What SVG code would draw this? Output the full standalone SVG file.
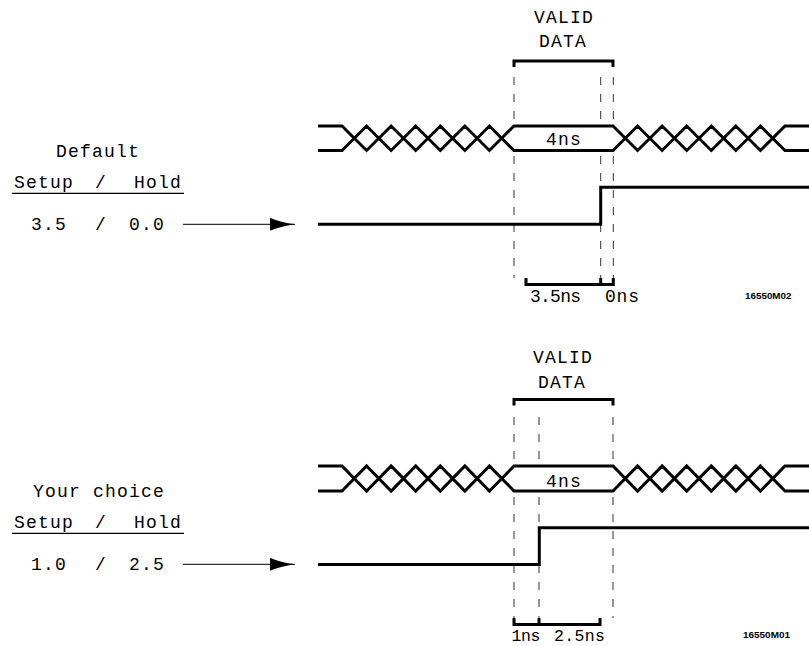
<svg xmlns="http://www.w3.org/2000/svg" width="809" height="646" viewBox="0 0 809 646">
<style>
  .t { font-family: "Liberation Mono", "DejaVu Sans Mono", monospace; font-size: 18px; letter-spacing: 1.2px; fill: #000; }
  .tn { font-family: "Liberation Mono", "DejaVu Sans Mono", monospace; font-size: 18px; letter-spacing: 0px; fill: #000; }
  .tb { font-family: "Liberation Mono", "DejaVu Sans Mono", monospace; font-size: 16.5px; letter-spacing: 0px; fill: #000; }
  .code { font-family: "Liberation Sans", Arial, sans-serif; font-size: 8.5px; font-weight: bold; fill: #000; }
  .bus { fill: none; stroke: #000; stroke-width: 3; stroke-linejoin: miter; }
  .sig { fill: none; stroke: #000; stroke-width: 3; stroke-linejoin: miter; }
  .brk { fill: none; stroke: #000; stroke-width: 3; stroke-linecap: square; stroke-linejoin: miter; }
  .dash { fill: none; stroke: #333; stroke-width: 1; stroke-dasharray: 8 9; }
  .ul { stroke: #000; stroke-width: 1.3; }
  .arr { stroke: #000; stroke-width: 1; fill: none; }
</style>
<defs>
  <marker id="ah" markerUnits="userSpaceOnUse" markerWidth="26" markerHeight="14" refX="25" refY="6.5" orient="auto">
    <path d="M0,0 Q10,4.5 25,6.5 Q10,8.5 0,13 Z" fill="#000"/>
  </marker>
</defs>

<!-- ===== Top: Default ===== -->
<g id="label-default">
  <text class="t" x="56" y="157">Default</text>
  <text class="t" y="188"><tspan x="14">Setup</tspan> <tspan x="95">/</tspan> <tspan x="134">Hold</tspan></text>
  <line class="ul" x1="12" y1="193.3" x2="184" y2="193.3"/>
  <text class="t" y="230"><tspan x="31">3.5</tspan> <tspan x="95">/</tspan> <tspan x="129">0.0</tspan></text>
</g>

<g id="timing-default">
  <text class="t" x="534" y="23">VALID</text>
  <text class="t" x="539" y="47">DATA</text>
  <path class="brk" d="M514,65.5 V61 H613 V65.5"/>
  <g class="dash">
    <path d="M514,77 V121 M514,156 V278"/>
    <path d="M600.7,77 V121 M600.7,156 V279"/>
    <path d="M613.3,77 V121 M613.3,156 V279"/>
  </g>
  <path class="bus" d="M318,126 H342 L366.57,150.5 L391.14,126 L415.71,150.5 L440.29,126 L464.86,150.5 L489.43,126 L514,150.5 H613 L637.57,126 L662.14,150.5 L686.71,126 L711.29,150.5 L735.86,126 L760.43,150.5 L785,126 H809"/>
  <path class="bus" d="M318,150.5 H342 L366.57,126 L391.14,150.5 L415.71,126 L440.29,150.5 L464.86,126 L489.43,150.5 L514,126 H613 L637.57,150.5 L662.14,126 L686.71,150.5 L711.29,126 L735.86,150.5 L760.43,126 L785,150.5 H809"/>
  <text class="t" x="546" y="145">4ns</text>
  <path class="sig" d="M318,224.3 H600.7 V187.3 H809"/>
  <path class="brk" d="M526,279.5 V284.5 H613.3 V279.5 M600.7,284.5 V279.5"/>
  <text class="tn" x="530" y="302" textLength="51" lengthAdjust="spacing">3.5ns</text>
  <text class="tn" x="605" y="302" textLength="34" lengthAdjust="spacing">0ns</text>
  <text class="code" x="745" y="298.5" textLength="46.5" lengthAdjust="spacingAndGlyphs">16550M02</text>
</g>

<!-- ===== Bottom: Your choice ===== -->
<g id="label-choice">
  <text class="t" x="33" y="497">Your choice</text>
  <text class="t" y="528"><tspan x="14">Setup</tspan> <tspan x="95">/</tspan> <tspan x="134">Hold</tspan></text>
  <line class="ul" x1="12" y1="533.3" x2="184" y2="533.3"/>
  <text class="t" y="570"><tspan x="31">1.0</tspan> <tspan x="95">/</tspan> <tspan x="129">2.5</tspan></text>
</g>

<g id="timing-choice">
  <text class="t" x="533" y="363">VALID</text>
  <text class="t" x="538" y="388">DATA</text>
  <path class="brk" d="M514,404 V399.5 H613 V404"/>
  <g class="dash">
    <path d="M514,417 V461 M514,497 V619"/>
    <path d="M539,417 V461 M539,497 V619"/>
    <path d="M613,417 V461 M613,497 V618"/>
  </g>
  <path class="bus" d="M318,466 H342 L366.57,491 L391.14,466 L415.71,491 L440.29,466 L464.86,491 L489.43,466 L514,491 H613 L637.57,466 L662.14,491 L686.71,466 L711.29,491 L735.86,466 L760.43,491 L785,466 H809"/>
  <path class="bus" d="M318,491 H342 L366.57,466 L391.14,491 L415.71,466 L440.29,491 L464.86,466 L489.43,491 L514,466 H613 L637.57,491 L662.14,466 L686.71,491 L711.29,466 L735.86,491 L760.43,466 L785,491 H809"/>
  <text class="t" x="546" y="486.5">4ns</text>
  <path class="sig" d="M318,564.5 H539.3 V527.7 H809"/>
  <path class="brk" d="M514,619.5 V624.5 H600 V619.5 M539,624.5 V619.5"/>
  <text class="tb" x="511.5" y="640.5" textLength="29" lengthAdjust="spacing">1ns</text>
  <text class="tb" x="554" y="640.5" textLength="51" lengthAdjust="spacing">2.5ns</text>
  <text class="code" x="743" y="638" textLength="47" lengthAdjust="spacingAndGlyphs">16550M01</text>
</g>

<!-- ===== Connectors ===== -->
<g id="connectors">
  <line class="arr" x1="183" y1="224.3" x2="295" y2="224.3" marker-end="url(#ah)"/>
  <line class="arr" x1="183" y1="564.3" x2="295" y2="564.3" marker-end="url(#ah)"/>
</g>
</svg>
